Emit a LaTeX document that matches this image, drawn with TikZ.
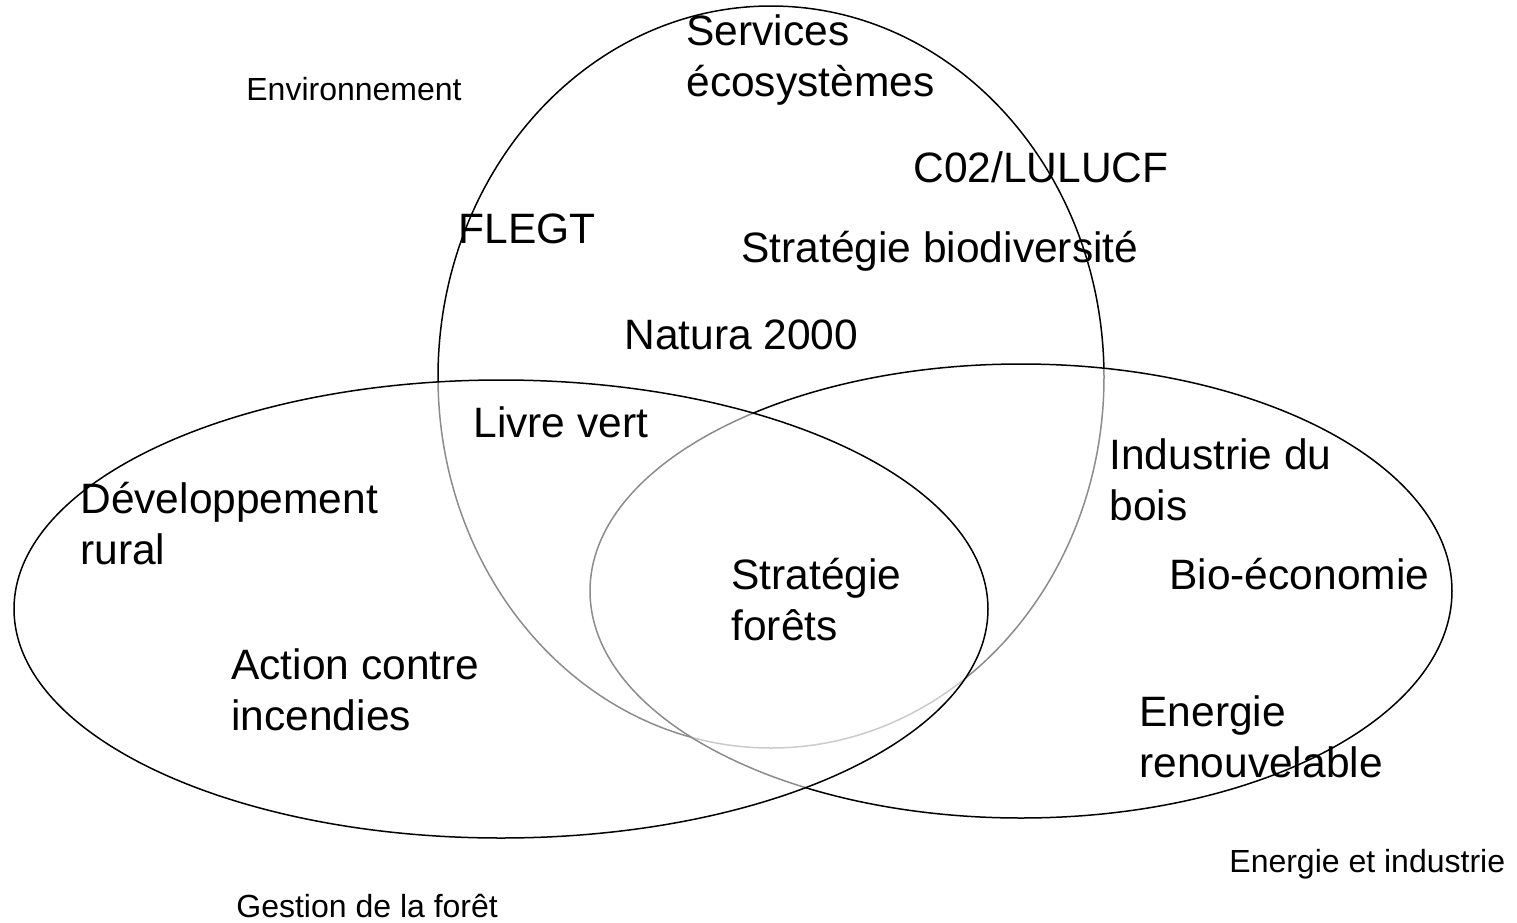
\documentclass[tikz,border=0pt]{standalone}
\usepackage{fontspec}
\setmainfont{Liberation Sans}

\begin{document}
\begin{tikzpicture}[x=0.5pt,y=0.5pt,yscale=-1,xscale=1,
  set/.style={draw=black,line width=0.75pt,fill=white,fill opacity=0.55,draw opacity=1},
  bigtxt/.style={anchor=base west,inner sep=0pt,align=left,font=\fontsize{21.25}{25.5}\selectfont},
  smalltxt/.style={anchor=base west,inner sep=0pt,font=\fontsize{16}{19.2}\selectfont}]
\useasboundingbox (0,0) rectangle (1517,922);

%Shape: Ellipse [Environnement]
\draw [set] (771,377) ellipse [x radius=333, y radius=371];
%Shape: Ellipse [Energie et industrie]
\draw [set] (1021,591) ellipse [x radius=431, y radius=227];
%Shape: Ellipse [Gestion de la foret]
\draw [set] (501,609) ellipse [x radius=487, y radius=229];

% Text Node
\node [smalltxt] (env) at (246,100) {Environnement};
% Text Node
\node [smalltxt] (energ) at (1229,872) {Energie et industrie};
% Text Node
\node [smalltxt] (gest) at (236,917) {Gestion de la forêt};

% Text Node (multi-line nodes sit on their last baseline)
\node [bigtxt] (serv) at (686,96) {Services\\écosystèmes};
% Text Node
\node [bigtxt] (co2) at (913,182) {C02/LULUCF};
% Text Node
\node [bigtxt] (flegt) at (458,243) {FLEGT};
% Text Node
\node [bigtxt] (biodiv) at (741,262) {Stratégie biodiversité};
% Text Node
\node [bigtxt] (natura) at (624,349) {Natura 2000};
% Text Node
\node [bigtxt] (livre) at (473,437) {Livre vert};
% Text Node
\node [bigtxt] (devrur) at (80,564) {Développement\\rural};
% Text Node
\node [bigtxt] (indus) at (1109,520) {Industrie du\\bois};
% Text Node
\node [bigtxt] (stratfor) at (731,640) {Stratégie\\forêts};
% Text Node
\node [bigtxt] (bioeco) at (1169,589) {Bio-économie};
% Text Node
\node [bigtxt] (incend) at (231,730) {Action contre\\incendies};
% Text Node
\node [bigtxt] (renouv) at (1139,777) {Energie\\renouvelable};

\end{tikzpicture}
\end{document}
